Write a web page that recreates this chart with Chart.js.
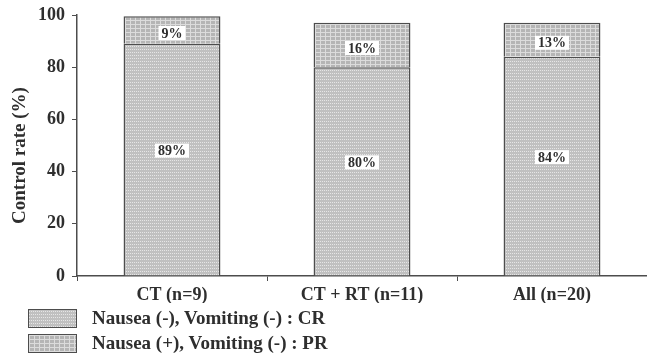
<!DOCTYPE html>
<html>
<head>
<meta charset="utf-8">
<script src="https://cdn.jsdelivr.net/npm/chart.js@4.4.0/dist/chart.umd.min.js"></script>
<style>
  html, body { margin: 0; padding: 0; background: #fff; }
  #wrap { position: relative; width: 647px; height: 355px; }
  #legend { position: absolute; left: 28px; top: 308px; }
  .item { display: flex; align-items: center; height: 20px; margin-bottom: 5px; }
  .swatch { width: 47px; height: 17px; border: 1.5px solid #4d4d4d; }
  .item span {
    margin-left: 15px;
    font: bold 19px 'Liberation Serif', 'Times New Roman', serif;
    color: #2e2e2e;
    white-space: nowrap;
  }
</style>
</head>
<body>
<div id="wrap">
  <canvas id="myChart" width="647" height="355"></canvas>
  <div id="legend"></div>
</div>
<script>
const groups = ['CT (n=9)', 'CT + RT (n=11)', 'All (n=20)'];
const crValues = [89, 80, 84];
const prValues = [10.5, 17, 13];
const crLabels = ['89%', '80%', '84%'];
const prLabels = ['9%', '16%', '13%'];
const yMin = 0;
const yMax = 100;
const yStep = 20;
const yTitle = 'Control rate (%)';

const serif = "'Liberation Serif', 'Times New Roman', serif";
const ink = '#2e2e2e';
const lineGrey = '#4d4d4d';

// small tiles that imitate the printed screen tones
function makeTile(w, h, base, paint) {
  const c = document.createElement('canvas');
  c.width = w;
  c.height = h;
  const g = c.getContext('2d');
  g.fillStyle = base;
  g.fillRect(0, 0, w, h);
  paint(g);
  return c;
}

const crTile = makeTile(4, 3, '#c0c0c0', g => {
  g.fillStyle = '#e6e6e6';
  g.fillRect(0, 1, 1, 1);
  g.fillRect(2, 1, 1, 1);
});

const prTile = makeTile(5, 4, '#b5b5b5', g => {
  g.fillStyle = '#dcdcdc';
  g.fillRect(0, 0, 5, 1);
  g.fillRect(0, 0, 1, 4);
});

const ctx = document.getElementById('myChart').getContext('2d');
const crPattern = ctx.createPattern(crTile, 'repeat');
const prPattern = ctx.createPattern(prTile, 'repeat');

const segmentLabels = {
  id: 'segmentLabels',
  afterDatasetsDraw(chart) {
    const c = chart.ctx;
    c.save();
    c.font = 'bold 14px ' + serif;
    c.textAlign = 'center';
    c.textBaseline = 'middle';
    chart.data.datasets.forEach((ds, di) => {
      const meta = chart.getDatasetMeta(di);
      meta.data.forEach((bar, i) => {
        const text = ds.segLabels[i];
        const y = (bar.y + bar.base) / 2 + (di === 0 ? -9 : 3);
        const w = c.measureText(text).width + 6;
        c.fillStyle = '#fff';
        c.fillRect(bar.x - w / 2, y - 7, w, 14);
        c.fillStyle = ink;
        c.fillText(text, bar.x, y + 1);
      });
    });
    c.restore();
  }
};

// y title sits a little below the middle of the axis in the original
const axisTitle = {
  id: 'axisTitle',
  afterDraw(chart) {
    const c = chart.ctx;
    const area = chart.chartArea;
    c.save();
    c.translate(20, (area.top + area.bottom) / 2 + 10);
    c.rotate(-Math.PI / 2);
    c.font = 'bold 19px ' + serif;
    c.fillStyle = ink;
    c.textAlign = 'center';
    c.textBaseline = 'middle';
    c.fillText(yTitle, 0, 0);
    c.restore();
  }
};

const chart = new Chart(ctx, {
  type: 'bar',
  data: {
    labels: groups,
    datasets: [
      {
        label: 'Nausea (-), Vomiting (-) : CR',
        data: crValues,
        segLabels: crLabels,
        tile: crTile,
        backgroundColor: crPattern,
        borderColor: lineGrey,
        borderWidth: 1.5
      },
      {
        label: 'Nausea (+), Vomiting (-) : PR',
        data: prValues,
        segLabels: prLabels,
        tile: prTile,
        backgroundColor: prPattern,
        borderColor: lineGrey,
        borderWidth: 1.5
      }
    ]
  },
  options: {
    responsive: false,
    animation: false,
    barPercentage: 0.51,
    categoryPercentage: 1,
    layout: { padding: { left: 23, top: 15, right: 0, bottom: 52 } },
    plugins: {
      tooltip: { enabled: false },
      legend: { display: false }
    },
    scales: {
      x: {
        stacked: true,
        border: { color: lineGrey, width: 1.5 },
        grid: { drawOnChartArea: false, drawTicks: true, tickLength: 5, color: lineGrey },
        ticks: {
          color: ink,
          padding: 4,
          font: { family: serif, size: 18, weight: 'bold' }
        },
        afterFit(scale) {
          scale.height = 27;
        }
      },
      y: {
        stacked: true,
        min: yMin,
        max: yMax,
        border: { color: lineGrey, width: 1.5 },
        grid: { drawOnChartArea: false, drawTicks: true, tickLength: 5, color: lineGrey },
        ticks: {
          stepSize: yStep,
          color: ink,
          padding: 7,
          font: { family: serif, size: 18, weight: 'bold' }
        },
        afterFit(scale) {
          scale.width = 54;
          scale.paddingTop = 0;
          scale.paddingBottom = 0;
        }
      }
    }
  },
  plugins: [segmentLabels, axisTitle]
});

// legend drawn as html rows under the plot
const legendBox = document.getElementById('legend');
chart.data.datasets.forEach(ds => {
  const row = document.createElement('div');
  row.className = 'item';
  const sw = document.createElement('div');
  sw.className = 'swatch';
  sw.style.backgroundImage = 'url(' + ds.tile.toDataURL() + ')';
  const txt = document.createElement('span');
  txt.textContent = ds.label;
  row.appendChild(sw);
  row.appendChild(txt);
  legendBox.appendChild(row);
});
</script>
</body>
</html>
